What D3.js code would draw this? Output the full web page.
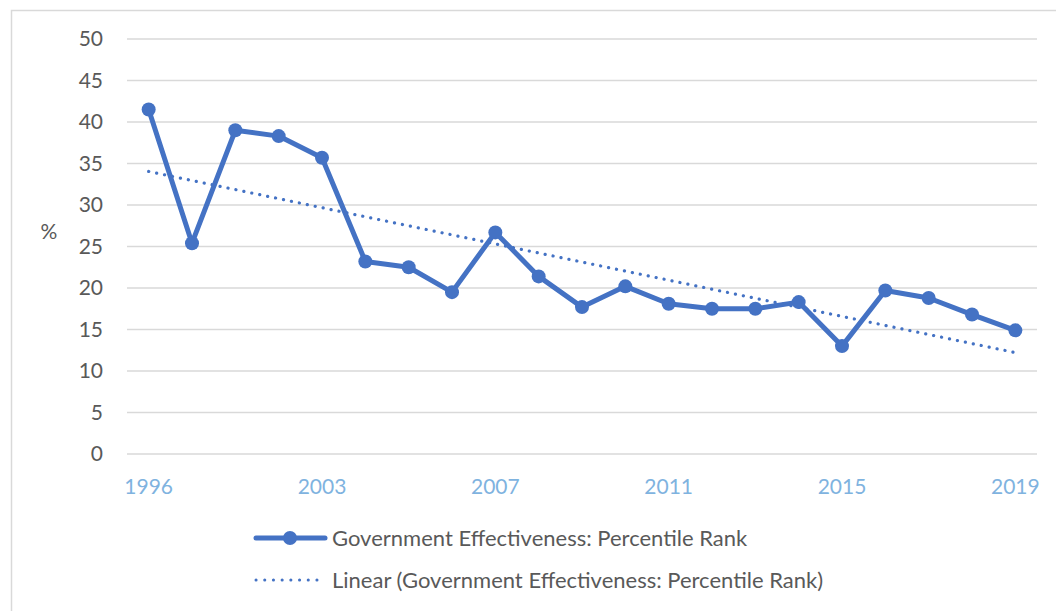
<!DOCTYPE html>
<html>
<head>
<meta charset="utf-8">
<script src="https://cdn.jsdelivr.net/npm/d3@7"></script>
<style>
  body { margin: 0; background: #fff; }
  text { font-family: Lato, "Open Sans", sans-serif; }
</style>
</head>
<body>
<svg id="chart" width="1056" height="611"></svg>
<script>
// data
const years = ['1996', '1998', '2000', '2002', '2003', '2004', '2005', '2006', '2007', '2008',
    '2009', '2010', '2011', '2012', '2013', '2014', '2015', '2016', '2017', '2018', '2019'];
const rank = [41.5, 25.4, 39.0, 38.3, 35.7, 23.2, 22.5, 19.5, 26.7, 21.4,
    17.7, 20.2, 18.1, 17.5, 17.5, 18.3, 13.0, 19.7, 18.8, 16.8, 14.9];
const yTicks = [0, 5, 10, 15, 20, 25, 30, 35, 40, 45, 50];
const xLabels = ['1996', '2003', '2007', '2011', '2015', '2019'];
const seriesName = 'Government Effectiveness: Percentile Rank';
const trendName = 'Linear (Government Effectiveness: Percentile Rank)';

const blue = '#4472C4';
const textCol = '#595959';
const fs = '21px';
const legendFs = '22px';

let svg = d3.select('#chart');

// outer chart border
svg.append('rect')
    .attr('x', 11.5).attr('y', 10.5)
    .attr('width', 1100).attr('height', 700)
    .attr('fill', 'none')
    .attr('stroke', '#d9d9d9')
    .attr('stroke-width', 1.5);

let xScale = d3.scalePoint()
    .domain(years)
    .range([127, 1037])
    .padding(0.5);

let yScale = d3.scaleLinear()
    .domain([0, 50])
    .range([454, 39]);

// gridlines
svg.append('g').selectAll('line')
    .data(yTicks)
    .enter()
    .append('line')
        .attr('x1', 127)
        .attr('x2', 1037)
        .attr('y1', d => yScale(d))
        .attr('y2', d => yScale(d))
        .style('stroke', '#d9d9d9')
        .style('stroke-width', 1.5);

// y axis labels
svg.append('g').selectAll('text')
    .data(yTicks)
    .enter()
    .append('text')
        .attr('x', 103)
        .attr('y', d => yScale(d))
        .attr('dy', '0.35em')
        .attr('text-anchor', 'end')
        .attr('fill', textCol)
        .style('font-size', fs)
        .text(d => d);

svg.append('text')
    .attr('x', 49)
    .attr('y', 232)
    .attr('dy', '0.35em')
    .attr('text-anchor', 'middle')
    .attr('fill', textCol)
    .style('font-size', fs)
    .text('%');

// x axis labels (every 4th category)
svg.append('g').selectAll('text')
    .data(xLabels)
    .enter()
    .append('text')
        .attr('x', d => xScale(d))
        .attr('y', 487)
        .attr('dy', '0.35em')
        .attr('text-anchor', 'middle')
        .attr('fill', '#7fb3df')
        .style('font-size', fs)
        .text(d => d);

// linear trend (least squares on category index)
let n = rank.length;
let mx = d3.mean(d3.range(n));
let my = d3.mean(rank);
let slope = d3.sum(rank, (v, i) => (i - mx) * (v - my)) / d3.sum(d3.range(n), i => (i - mx) * (i - mx));
let icpt = my - slope * mx;

svg.append('line')
    .attr('x1', xScale(years[0]))
    .attr('x2', xScale(years[n - 1]))
    .attr('y1', yScale(icpt))
    .attr('y2', yScale(icpt + slope * (n - 1)))
    .attr('stroke', blue)
    .attr('stroke-width', 3.2)
    .attr('stroke-linecap', 'round')
    .attr('stroke-dasharray', '0.1 8');

// main series
let line = d3.line()
    .x((d, i) => xScale(years[i]))
    .y(d => yScale(d));

svg.append('path')
    .datum(rank)
    .attr('d', line)
    .attr('fill', 'none')
    .attr('stroke', blue)
    .attr('stroke-width', 5)
    .attr('stroke-linejoin', 'round');

svg.append('g').selectAll('circle')
    .data(rank)
    .enter()
    .append('circle')
        .attr('cx', (d, i) => xScale(years[i]))
        .attr('cy', d => yScale(d))
        .attr('r', 7)
        .attr('fill', blue);

// legend
let lg = svg.append('g');
lg.append('line')
    .attr('x1', 256).attr('x2', 325)
    .attr('y1', 538).attr('y2', 538)
    .attr('stroke', blue)
    .attr('stroke-width', 5)
    .attr('stroke-linecap', 'round');
lg.append('circle')
    .attr('cx', 290).attr('cy', 538).attr('r', 7)
    .attr('fill', blue);
lg.append('text')
    .attr('x', 332).attr('y', 538)
    .attr('dy', '0.35em')
    .attr('fill', textCol)
    .style('font-size', legendFs)
    .text(seriesName);

lg.append('line')
    .attr('x1', 256).attr('x2', 325)
    .attr('y1', 580).attr('y2', 580)
    .attr('stroke', blue)
    .attr('stroke-width', 3)
    .attr('stroke-linecap', 'round')
    .attr('stroke-dasharray', '0.1 8.6');
lg.append('text')
    .attr('x', 332).attr('y', 580)
    .attr('dy', '0.35em')
    .attr('fill', textCol)
    .style('font-size', legendFs)
    .text(trendName);
</script>
</body>
</html>
